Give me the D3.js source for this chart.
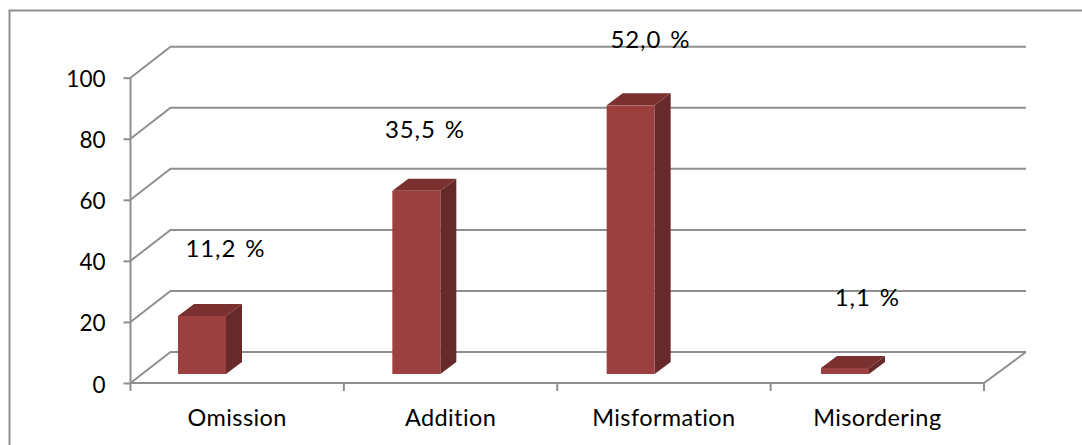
<!DOCTYPE html>
<html><head><meta charset="utf-8">
<script src="https://cdn.jsdelivr.net/npm/d3@7/dist/d3.min.js"></script>
<style>html,body{margin:0;padding:0;background:#fff}svg{display:block}text{font-family:Lato,"Open Sans",sans-serif;fill:#000}</style>
</head><body><svg id="c" width="1082" height="445"></svg>
<script>
const categories = ["Omission","Addition","Misformation","Misordering"];
const values = [19,60,88,2];
const dataLabels = ["11,2 %","35,5 %","52,0 %","1,1 %"];
const labelLevels = [41.4,80.2,109.7,25.2];
const yTicks = [0,20,40,60,80,100];

const svg=d3.select("#c");
const grey="#8f8f8f";
const x0=130.5,x1=984,yBottom=383,yTop=77.7;
const dx=40,dy=31;
const depthX=16,depthY=12;
const barW=48;
const barLift=9;
const fs=22.5;
const labelShift=[-11.7,-25.6,-13.5,-10];

const frame=d3.path();
frame.moveTo(9.5,445); frame.lineTo(9.5,10.5); frame.lineTo(1082,10.5);
svg.append("path").attr("d",frame).attr("fill","none").attr("stroke",grey).attr("stroke-width",2);

const x=d3.scaleBand().domain(categories).range([x0,x1]);
const xBar=d3.scalePoint().domain(categories).range([178,821]);
const y=d3.scaleLinear().domain([0,100]).range([yBottom,yTop]);

const grid=svg.append("g").attr("stroke",grey).attr("stroke-width",2).attr("fill","none");
yTicks.forEach(t=>{
  const p=d3.path();
  p.moveTo(x0,y(t)); p.lineTo(x0+dx,y(t)-dy); p.lineTo(x1+dx+2,y(t)-dy);
  grid.append("path").attr("d",p);
});
const fp=d3.path();
fp.moveTo(x0,yBottom); fp.lineTo(x1,yBottom); fp.lineTo(x1+dx+2,yBottom-dy);
grid.append("path").attr("d",fp);

const yAxis=d3.axisLeft(y).tickValues(yTicks).tickSize(7).tickPadding(18);
const gy=svg.append("g").attr("transform",`translate(${x0},0)`).call(yAxis);
gy.selectAll("line").attr("stroke",grey).attr("stroke-width",2);
gy.select(".domain").attr("stroke",grey).attr("stroke-width",2).attr("d",`M0,${yTop}V${yBottom}`);
gy.selectAll("text").attr("font-size",fs).attr("font-family","Lato").attr("fill","#000").attr("dy","0.4em");

const gx=svg.append("g").attr("transform",`translate(0,${yBottom})`);
const edges=categories.map(c=>x(c)).concat([x1]);
gx.selectAll("line").data(edges).join("line")
  .attr("x1",d=>d).attr("x2",d=>d).attr("y1",0).attr("y2",8)
  .attr("stroke",grey).attr("stroke-width",2);
gx.selectAll("text").data(categories).join("text")
  .attr("x",d=>x(d)+x.bandwidth()/2).attr("y",43)
  .attr("text-anchor","middle").attr("font-size",23.5).attr("letter-spacing",0.4).text(d=>d);

const bars=svg.append("g").selectAll("g").data(categories).join("g");
bars.each(function(c,i){
  const g=d3.select(this);
  const l=xBar(c), r=l+barW;
  const b=yBottom-barLift, t=y(values[i])-barLift;
  const poly=(pts,fill)=>g.append("polygon").attr("points",pts.map(p=>p.join(",")).join(" ")).attr("fill",fill);
  poly([[r,b],[r+depthX,b-depthY],[r+depthX,t-depthY],[r,t]],"#652a29");
  poly([[l,t],[l+depthX,t-depthY],[r+depthX,t-depthY],[r,t]],"#7a302e");
  g.append("rect").attr("x",l).attr("y",t).attr("width",barW).attr("height",b-t).attr("fill","#9b403e");
});

svg.append("g").selectAll("text").data(dataLabels).join("text")
  .attr("x",(d,i)=>x(categories[i])+x.bandwidth()/2+labelShift[i])
  .attr("y",(d,i)=>y(labelLevels[i]))
  .attr("text-anchor","middle").attr("font-size",24).attr("letter-spacing",0.9).attr("word-spacing",2).text(d=>d);
</script></body></html>
